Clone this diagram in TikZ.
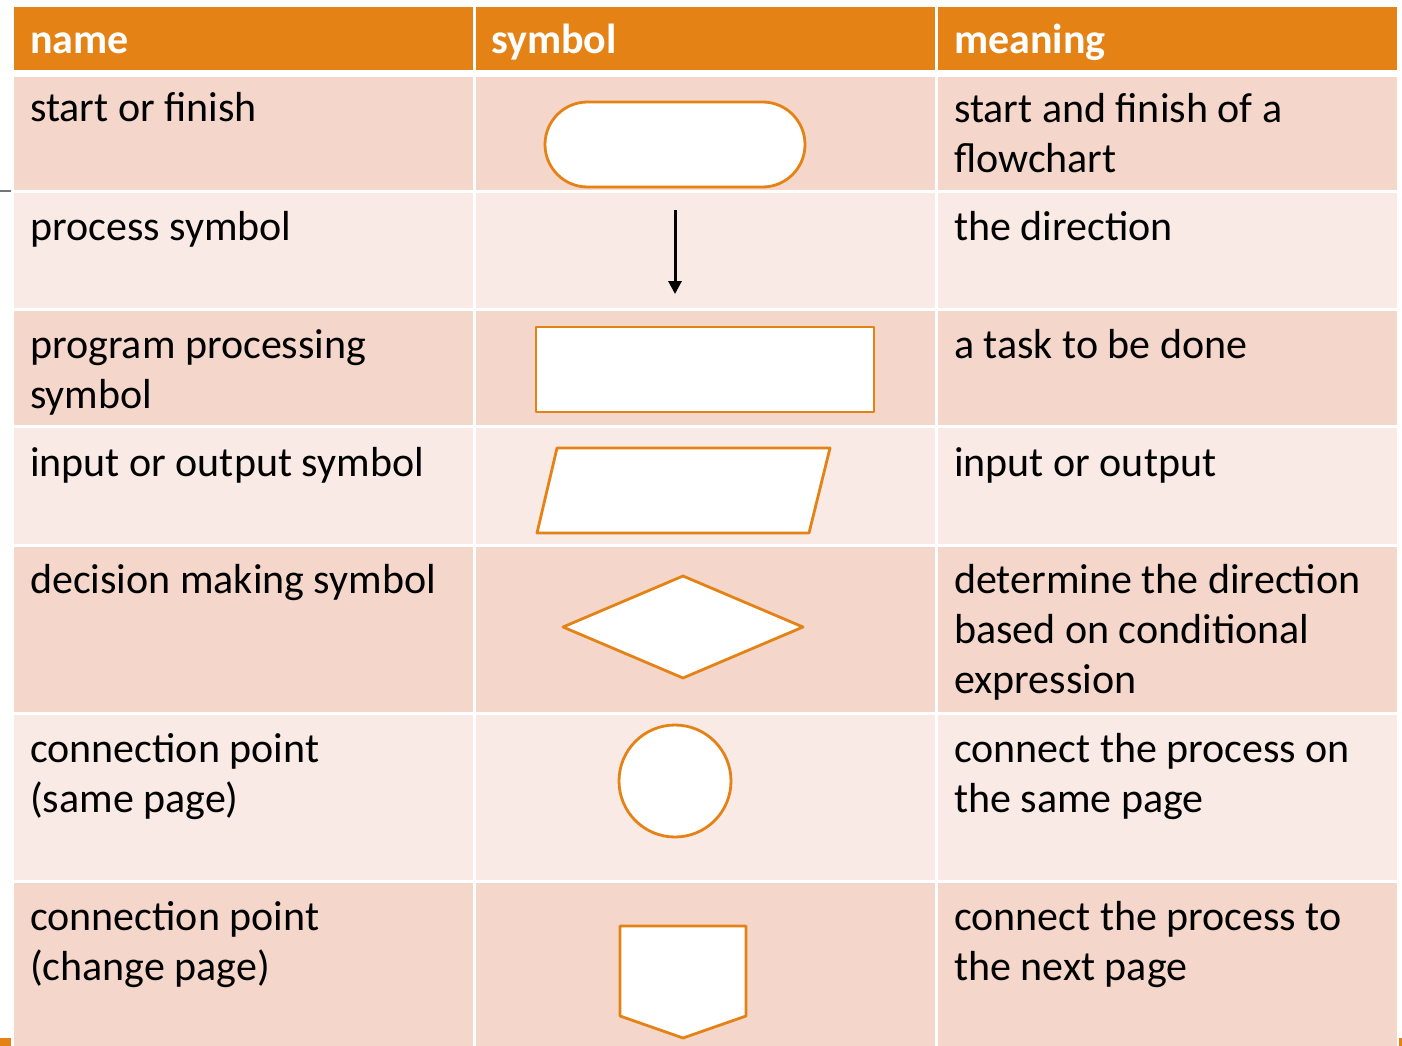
\documentclass[tikz,border=0pt]{standalone}
\usepackage{fontspec}
\setmainfont{Carlito}
\usetikzlibrary{arrows.meta,positioning,calc}
\definecolor{hdrorange}{RGB}{229,130,21}
\definecolor{rowdark}{RGB}{244,215,202}
\definecolor{rowlight}{RGB}{249,234,229}
\definecolor{edgegray}{RGB}{118,118,118}
\tikzset{
  celltext/.style={anchor=base west,align=left,inner sep=0pt,font=\fontsize{42}{50}\selectfont},
  headtext/.style={anchor=base west,inner sep=0pt,text=white,font=\fontsize{42}{50}\selectfont\bfseries},
  symshape/.style={draw=hdrorange,line width=2.8pt,fill=white,line join=round}
}

\begin{document}
\begin{tikzpicture}[x=1pt,y=-1pt]
\useasboundingbox (0,0) rectangle (1402,1046);
\fill[white] (0,0) rectangle (1402,1046);
% header
\fill[hdrorange] (14,7) rectangle (473,70);
\fill[hdrorange] (476,7) rectangle (935,70);
\fill[hdrorange] (938,7) rectangle (1397,70);
\node[headtext] (hname) at (30,54) {name};
\node[headtext] (hsym) at (491,54) {symbol};
\node[headtext] (hmean) at (954,54) {meaning};
% rows: top/bottom/colour
\foreach \top/\bot/\col in {77/190/rowdark,193/308/rowlight,311/425/rowdark,428/544/rowlight,547/712/rowdark,715/880/rowlight,883/1046/rowdark}{
  \fill[\col] (14,\top) rectangle (473,\bot);
  \fill[\col] (476,\top) rectangle (935,\bot);
  \fill[\col] (938,\top) rectangle (1397,\bot);
}
% edge marks
\fill[edgegray] (0,190) rectangle (11,192);
\fill[hdrorange] (0,1038) rectangle (11,1046);
\fill[hdrorange] (1399,1038) rectangle (1402,1046);
% names (base = last line)
\node[celltext] (n1) at (30,122) {start or finish};
\node[celltext] (n2) at (30,240) {process symbol};
\node[celltext] (n3) at (30,408) {program processing\\symbol};
\node[celltext] (n4) at (30,476) {input or output symbol};
\node[celltext] (n5) at (30,593) {decision making symbol};
\node[celltext] (n6) at (30,812) {connection point\\(same page)};
\node[celltext] (n7) at (30,980) {connection point\\(change page)};
% meanings
\node[celltext] (m1) at (954,172) {start and finish of a\\flowchart};
\node[celltext] (m2) at (954,240) {the direction};
\node[celltext] (m3) at (954,358) {a task to be done};
\node[celltext] (m4) at (954,476) {input or output};
\node[celltext] (m5) at (954,693) {determine the direction\\based on conditional\\expression};
\node[celltext] (m6) at (954,812) {connect the process on\\the same page};
\node[celltext] (m7) at (954,980) {connect the process to\\the next page};
% symbols
\draw[symshape,rounded corners=42.5pt] (545,102) rectangle (805,187);
\coordinate (arrtop) at (675,210);
\coordinate (arrbot) at (675,294);
\draw[line width=3pt,-{Triangle[length=13pt,width=13pt]}] (arrtop) -- (arrbot);
\draw[symshape] (536,327) rectangle (874,412);
\draw[symshape] (537,533) -- (557,448) -- (830,448) -- (809,533) -- cycle;
\draw[symshape] (563,627) -- (683,576) -- (803,627) -- (683,678) -- cycle;
\draw[symshape] (675,781) circle (56pt);
\draw[symshape] (620,926) -- (746,926) -- (746,1016) -- (683,1038) -- (620,1016) -- cycle;
\end{tikzpicture}
\end{document}
